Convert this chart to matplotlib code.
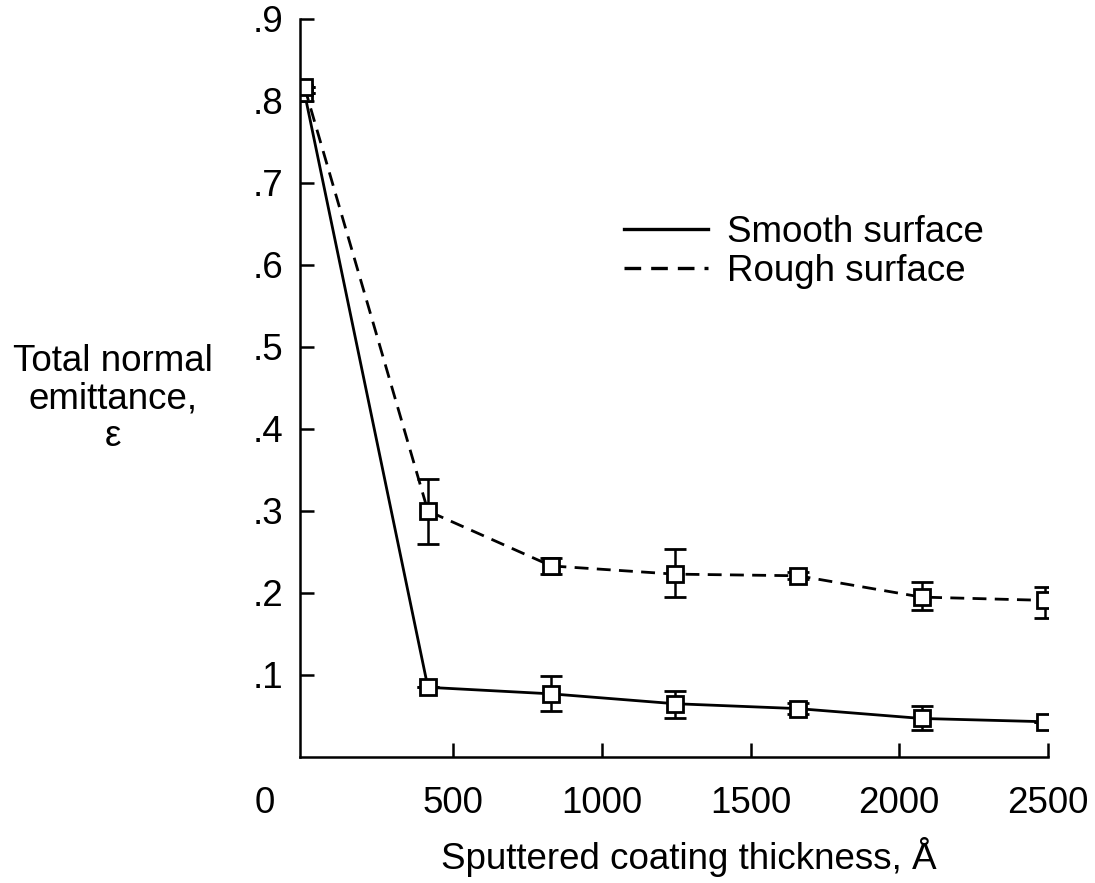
import matplotlib
matplotlib.use("Agg")
import matplotlib.pyplot as plt
from matplotlib.transforms import ScaledTranslation
from matplotlib.lines import Line2D

plt.rcParams['font.family'] = ['Liberation Sans', 'DejaVu Sans']

# Data
thickness = [0, 415, 830, 1245, 1660, 2075, 2490]
smooth = [0.810, 0.085, 0.077, 0.065, 0.059, 0.047, 0.043]
smooth_lo = [0.0, 0.0, 0.021, 0.017, 0.007, 0.014, 0.0]
smooth_hi = [0.0, 0.0, 0.022, 0.015, 0.007, 0.015, 0.0]
rough = [0.817, 0.300, 0.233, 0.223, 0.221, 0.195, 0.191]
rough_lo = [0.0, 0.040, 0.010, 0.028, 0.004, 0.016, 0.022]
rough_hi = [0.0, 0.039, 0.010, 0.031, 0.004, 0.018, 0.016]

xticks = [0, 500, 1000, 1500, 2000, 2500]
xticklabels = ['0', '500', '1000', '1500', '2000', '2500']
yticks = [0.1, 0.2, 0.3, 0.4, 0.5, 0.6, 0.7, 0.8, 0.9]
yticklabels = ['.1', '.2', '.3', '.4', '.5', '.6', '.7', '.8', '.9']

FS = 26.5
DASH = (0, (5, 3))

fig = plt.figure(figsize=(10.95, 8.83), dpi=100)
ax = fig.add_axes([0.274, 0.1427, 0.683, 0.8358])

common = dict(color='black', linewidth=2.0, marker='s', markersize=11,
              markerfacecolor='white', markeredgecolor='black', markeredgewidth=2.0,
              capsize=8, elinewidth=1.8, capthick=1.8)
ax.errorbar(thickness, smooth, yerr=[smooth_lo, smooth_hi], linestyle='-',
            label='Smooth surface', **common)
ax.errorbar(thickness, rough, yerr=[rough_lo, rough_hi], linestyle=DASH,
            label='Rough surface', **common)

ax.set_xlim(-15, 2500)
ax.set_ylim(0, 0.9)
ax.spines['top'].set_visible(False)
ax.spines['right'].set_visible(False)
for s in ['left', 'bottom']:
    ax.spines[s].set_linewidth(1.8)

ax.set_xticks(xticks)
ax.set_xticklabels(xticklabels)
ax.set_yticks(yticks)
ax.set_yticklabels(yticklabels)
ax.tick_params(axis='both', direction='in', length=10, width=1.8,
               labelsize=FS)
ax.tick_params(axis='x', pad=21)
ax.tick_params(axis='y', pad=12)

xt = ax.xaxis.get_major_ticks()
xt[0].tick1line.set_visible(False)
lbl0 = xt[0].label1
lbl0.set_transform(lbl0.get_transform() + ScaledTranslation(-0.40, 0, fig.dpi_scale_trans))

ax.set_xlabel('Sputtered coating thickness, Å', fontsize=FS)
ax.xaxis.set_label_coords(0.52, -0.108)
fig.text(0.103, 0.548, 'Total normal\nemittance,\nε', fontsize=FS,
         ha='center', va='center', linespacing=1.1)

handles = [Line2D([], [], color='black', linewidth=2.4, linestyle='-'),
           Line2D([], [], color='black', linewidth=2.4, linestyle=DASH)]
ax.legend(handles, ['Smooth surface', 'Rough surface'], frameon=False,
          fontsize=FS, handlelength=2.3, handletextpad=0.5, labelspacing=0.12,
          loc='upper left', bbox_to_anchor=(0.413, 0.755), borderaxespad=0)

fig.savefig('out.png', dpi=100)
